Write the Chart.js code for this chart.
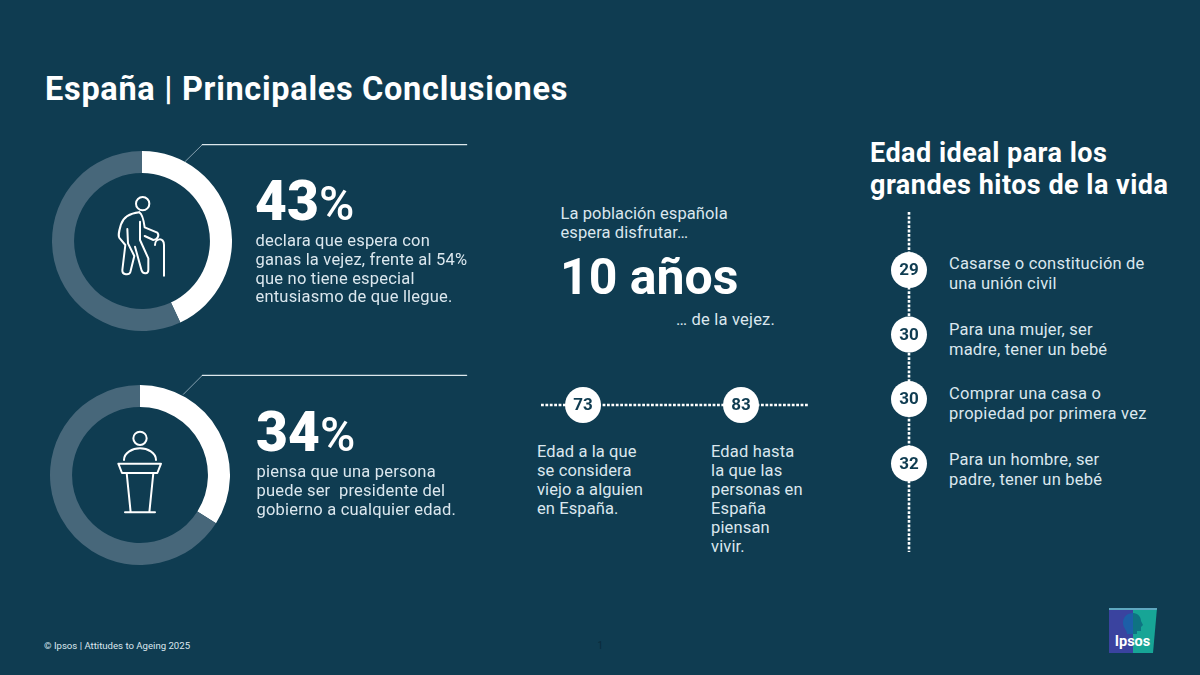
<!DOCTYPE html>
<html lang="es">
<head>
<meta charset="utf-8">
<title>España | Principales Conclusiones</title>
<script src="https://cdn.jsdelivr.net/npm/chart.js@4"></script>
<style>
  html, body { margin: 0; padding: 0; background: #0f3c51; }
  #page { position: relative; width: 1200px; height: 675px; overflow: hidden; background: #0f3c51; font-family: Roboto, sans-serif; }
  #page canvas, #page svg { position: absolute; }
  .t { position: absolute; white-space: pre; line-height: 0; }
</style>
</head>
<body>
<div id="page">
  <canvas id="donutVejez" width="180" height="180" style="left:52px;top:151px;width:180px;height:180px"></canvas>
  <canvas id="donutPresidente" width="180" height="180" style="left:50px;top:385px;width:180px;height:180px"></canvas>
  <canvas id="edadChart" width="267" height="40" style="left:541px;top:385px;width:267px;height:40px"></canvas>
  <canvas id="hitosChart" width="40" height="340" style="left:889px;top:212px;width:40px;height:340px"></canvas>

  <!-- leader lines and icons, traced in 3x coordinates -->
  <svg style="left:40px;top:130px" width="440" height="220" viewBox="0 0 1320 660" fill="none" stroke="#fff" stroke-width="6" stroke-linejoin="round" stroke-linecap="round">
    <path d="M436 94L487 44" stroke-width="2.5" stroke="#9fb6c3"/>
    <path d="M487 44H1280" stroke-width="3.5" stroke="#dce7ec"/>
    <circle cx="308" cy="221" r="20"/>
    <path d="M298 247C272 250 250 262 243 283C238 300 232 318 240 326L256 345L247 420C246 436 268 436 271 426L283 378L264 340L262 297"/>
    <path d="M285 350L305 422C310 434 325 432 325 420V385L300 330V275"/>
    <path d="M298 247C308 252 311 270 314 292L352 308C360 318 350 330 340 330L314 318"/>
    <path d="M345 345C345 325 372 320 372 345V437"/>
  </svg>
  <svg style="left:40px;top:365px" width="440" height="210" viewBox="0 0 1320 630" fill="none" stroke="#fff" stroke-width="6" stroke-linejoin="round" stroke-linecap="round">
    <path d="M430 88L487 31" stroke-width="2.5" stroke="#9fb6c3"/>
    <path d="M487 31H1280" stroke-width="3.5" stroke="#dce7ec"/>
    <circle cx="300" cy="220" r="20"/>
    <path d="M252 285C252 262 278 250 300 250C322 250 348 262 348 285"/>
    <path d="M235 296H363L352 324H246ZM260 324L272 442M340 324L328 442M255 442H345"/>
  </svg>
  <svg style="left:1105px;top:604px" width="56" height="52" viewBox="0 0 56 52">
    <polygon points="4,4 28,4 28,49 4,49" fill="#3a439f"/>
    <polygon points="28,4 52,4 48,49 28,49" fill="#17a596"/>
    <polygon points="4,4 52,4 51.8,6 4,6" fill="#5fa8c0"/>
    <path d="M28 9C22 9 18 13 18 19C18 24 22 26 22 30H28Z" fill="#1c5fa8"/>
    <path d="M28 9C33 9 36 13 36 17L38 21L36 23V27L32 27V30H28Z" fill="#0e7382"/>
    <text x="27.5" y="42" text-anchor="middle" font-family="Roboto" font-weight="700" font-size="14.5" fill="#fff">Ipsos</text>
  </svg>
</div>
<script>
// Valores
const vejezSplit = [43, 57];
const presidenteSplit = [34, 66];
const edadValues = [73, 83];
const hitosValues = [29, 30, 30, 32];
const hitosRank = [1, 2, 3, 4];

const WHITE = '#ffffff', TRACK = '#47677a', NAVY = '#0f3c51', TEXT = '#dbe7ee';

const page = document.getElementById('page');

// one absolutely placed element per line, y is the baseline
function addText(x, y, lines, size, weight, gap, color, spacing) {
    lines.forEach((line, i) => {
        const el = document.createElement('div');
        el.className = 't';
        el.textContent = line;
        el.style.left = x + 'px';
        el.style.top = (y + i * gap - 0.3415 * size) + 'px';
        el.style.fontSize = size + 'px';
        el.style.fontWeight = weight;
        el.style.color = color;
        el.style.letterSpacing = (spacing || 0) + 'px';
        page.appendChild(el);
    });
}

addText(45, 100, ['España | Principales Conclusiones'], 32.5, 700, 0, WHITE, 0.7);

addText(255, 220, [vejezSplit[0] + ''], 55, 900, 0, WHITE);
addText(319, 220, ['%'], 48, 500, 0, WHITE);
addText(255.5, 247, ['declara que espera con', 'ganas la vejez, frente al 54%', 'que no tiene especial', 'entusiasmo de que llegue.'], 16.5, 400, 18.7, TEXT, 0.2);

addText(256, 451, [presidenteSplit[0] + ''], 55, 900, 0, WHITE);
addText(320, 451, ['%'], 48, 500, 0, WHITE);
addText(256.5, 478, ['piensa que una persona', 'puede ser  presidente del', 'gobierno a cualquier edad.'], 16.5, 400, 18.7, TEXT, 0.2);

addText(560.5, 220, ['La población española', 'espera disfrutar…'], 16.5, 400, 19, TEXT, 0.1);
addText(560, 294, ['10 años'], 50, 700, 0, WHITE);
addText(676, 326, ['… de la vejez.'], 16.5, 400, 0, TEXT, 0.2);

addText(537, 458, ['Edad a la que', 'se considera', 'viejo a alguien', 'en España.'], 16.5, 400, 19, TEXT, 0.1);
addText(711, 458, ['Edad hasta', 'la que las', 'personas en', 'España', 'piensan', 'vivir.'], 16.5, 400, 19, TEXT, 0.15);

addText(870, 162, ['Edad ideal para los', 'grandes hitos de la vida'], 27, 700, 32, WHITE, 0.48);

addText(949, 270, ['Casarse o constitución de', 'una unión civil'], 16.5, 400, 19.5, TEXT, 0.2);
addText(949, 336, ['Para una mujer, ser', 'madre, tener un bebé'], 16.5, 400, 19.5, TEXT, 0.2);
addText(949, 400, ['Comprar una casa o', 'propiedad por primera vez'], 16.5, 400, 19.5, TEXT, 0.25);
addText(949, 466, ['Para un hombre, ser', 'padre, tener un bebé'], 16.5, 400, 19.5, TEXT, 0.2);

addText(44, 649, ['© Ipsos | Attitudes to Ageing 2025'], 9.6, 400, 0, TEXT, 0);
addText(597.5, 649, ['1'], 10, 400, 0, '#0a2a3c', 0);

Chart.defaults.animation = false;
Chart.defaults.responsive = false;
Chart.defaults.plugins.legend.display = false;
Chart.defaults.plugins.tooltip.enabled = false;

function donut(id, split) {
    return new Chart(document.getElementById(id), {
        type: 'doughnut',
        data: {
            labels: ['Sí', 'Resto'],
            datasets: [{ data: split, backgroundColor: [WHITE, TRACK], borderWidth: 0 }]
        },
        options: { cutout: '75.5%' }
    });
}
donut('donutVejez', vejezSplit);
donut('donutPresidente', presidenteSplit);

// writes each age inside its white point
const pointValues = {
    id: 'pointValues',
    afterDatasetsDraw(chart) {
        const c = chart.ctx;
        const values = chart.options.plugins.pointValues.values;
        c.save();
        c.font = '700 17px Roboto';
        c.fillStyle = NAVY;
        c.textAlign = 'center';
        c.textBaseline = 'middle';
        chart.getDatasetMeta(1).data.forEach((pt, i) => {
            c.fillText(values[i], pt.x, pt.y + 1);
        });
        c.restore();
    }
};

const edadAxis = [70.34, 87.24];
new Chart(document.getElementById('edadChart'), {
    type: 'scatter',
    data: {
        datasets: [
            {
                data: edadAxis.map(x => ({ x: x, y: 0 })),
                showLine: true, clip: false, borderColor: WHITE, borderWidth: 2.6, borderDash: [2.8, 1.6], pointRadius: 0
            },
            {
                data: edadValues.map(x => ({ x: x, y: 0 })),
                clip: false, pointRadius: 18, pointBackgroundColor: WHITE, pointBorderWidth: 0
            }
        ]
    },
    options: {
        layout: { autoPadding: false },
        scales: {
            x: { display: false, min: edadAxis[0], max: edadAxis[1] },
            y: { display: false, min: -1, max: 1 }
        },
        plugins: { pointValues: { values: edadValues } }
    },
    plugins: [pointValues]
});

const hitosAxis = [0.1, 5.37];
new Chart(document.getElementById('hitosChart'), {
    type: 'scatter',
    data: {
        datasets: [
            {
                data: hitosAxis.map(y => ({ x: 0, y: y })),
                showLine: true, clip: false, borderColor: WHITE, borderWidth: 2.6, borderDash: [2.8, 1.6], pointRadius: 0
            },
            {
                data: hitosRank.map(y => ({ x: 0, y: y })),
                clip: false, pointRadius: 18, pointBackgroundColor: WHITE, pointBorderWidth: 0
            }
        ]
    },
    options: {
        layout: { autoPadding: false },
        scales: {
            x: { display: false, min: -1, max: 1 },
            y: { display: false, reverse: true, min: hitosAxis[0], max: hitosAxis[1] }
        },
        plugins: { pointValues: { values: hitosValues } }
    },
    plugins: [pointValues]
});
</script>
</body>
</html>
